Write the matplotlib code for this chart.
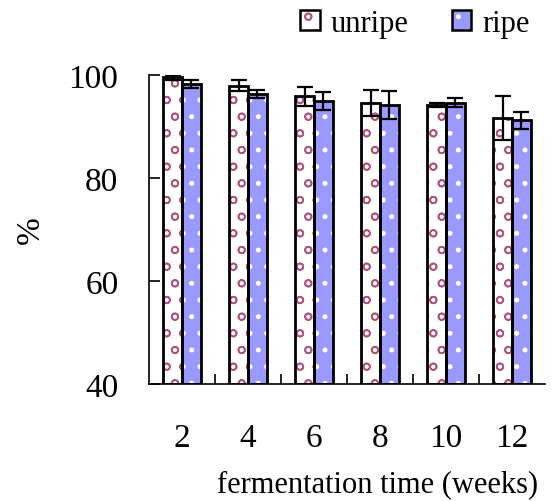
import numpy as np
from matplotlib import pyplot as plt
from matplotlib.ticker import FixedLocator

weeks = ['2', '4', '6', '8', '10', '12']
unripe = [99.55, 97.9, 95.85, 94.6, 94.25, 91.7]
unripe_err = [0.45, 1.05, 1.85, 2.5, 0.4, 4.25]
ripe = [98.25, 96.35, 95.0, 94.15, 94.6, 91.25]
ripe_err = [0.85, 0.8, 1.7, 2.7, 0.85, 1.65]

plt.rcParams['font.family'] = ['Liberation Serif', 'DejaVu Serif']
plt.rcParams['hatch.linewidth'] = 1.2

fig = plt.figure(figsize=(5.57, 5.02), dpi=100)
ax = fig.add_axes([0.2675, 0.233, 0.711, 0.6155])

x = np.arange(len(weeks))
w = 0.285

def draw(pos, vals, errs, face, hatch_col, hatch):
  # fill + hatch, then black outline on top
  ax.bar(pos, np.array(vals) - 40, w, bottom=40, color=face, edgecolor=hatch_col,
         hatch=hatch, linewidth=0, zorder=2)
  ax.bar(pos, np.array(vals) - 40, w, bottom=40, fill=False, edgecolor='black',
         linewidth=2.0, zorder=3)
  ax.errorbar(pos, vals, yerr=errs, fmt='none', ecolor='black', elinewidth=1.6,
              capsize=6, capthick=1.6, zorder=4)

draw(x - w / 2, unripe, unripe_err, 'white', '#b05580', 'o')
draw(x + w / 2, ripe, ripe_err, '#9999ff', 'white', '.')

ax.set_xlim(-0.5, 5.5)
ax.set_ylim(40, 100)
ax.set_yticks([40, 60, 80, 100])
ax.set_xticks(x)
ax.set_xticklabels(weeks)
ax.xaxis.set_minor_locator(FixedLocator(np.arange(0.5, 5.0, 1)))

ax.spines['top'].set_visible(False)
ax.spines['right'].set_visible(False)
for s in ['left', 'bottom']:
  ax.spines[s].set_linewidth(1.2)

ax.tick_params(axis='y', direction='in', length=8, width=1.2, pad=22, labelsize=24)
ax.tick_params(axis='x', which='major', length=0, pad=28, labelsize=24)
ax.tick_params(axis='x', which='minor', direction='in', length=7, width=1.2)

ax.set_xlabel('fermentation time (weeks)', fontsize=22)
ax.xaxis.set_label_coords(0.578, -0.275)
ax.set_ylabel('%', fontsize=24, va='center')
ax.yaxis.set_label_coords(-0.30, 0.5)

h1 = (ax.bar([0], [0], color='white', edgecolor='#b05580', hatch='o', linewidth=0),
      plt.Rectangle((0, 0), 1, 1, fill=False, edgecolor='black', linewidth=1.8))
h2 = (ax.bar([0], [0], color='#9999ff', edgecolor='white', hatch='.', linewidth=0),
      plt.Rectangle((0, 0), 1, 1, fill=False, edgecolor='black', linewidth=1.8))
fig.legend([h1, h2], ['unripe', 'ripe'], loc='upper right', bbox_to_anchor=(1.0, 1.035),
           ncol=2, frameon=False, fontsize=22, handlelength=0.65, handleheight=0.65,
           handletextpad=0.35, columnspacing=1.4)

fig.savefig('out.png', dpi=100)
